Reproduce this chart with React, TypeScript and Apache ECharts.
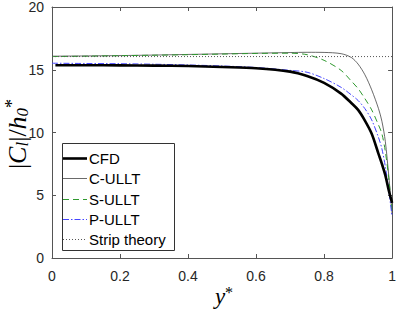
import React, { useEffect, useRef } from "react";
import * as echarts from "echarts";

const xs = [0, 0.1, 0.2, 0.3, 0.4, 0.5, 0.6, 0.7, 0.75, 0.8, 0.85, 0.88, 0.9, 0.92, 0.94, 0.96, 0.97, 0.98, 0.99, 1.0];
const cfdX = [0.01, 0.1, 0.2, 0.3, 0.4, 0.5, 0.6, 0.7, 0.75, 0.8, 0.85, 0.88, 0.9, 0.92, 0.94, 0.96, 0.97, 0.98, 0.99, 1.0];
const cfd = [15.36, 15.36, 15.35, 15.33, 15.3, 15.22, 15.12, 14.85, 14.5, 13.95, 13.1, 12.35, 11.8, 10.95, 9.9, 8.3, 7.5, 6.6, 5.4, 4.4];
const cUllt = [16.08, 16.1, 16.13, 16.17, 16.22, 16.27, 16.32, 16.37, 16.39, 16.38, 16.28, 15.98, 15.45, 14.6, 13.4, 11.9, 10.9, 9.3, 6.6, 3.5];
const sUllt = [16.05, 16.08, 16.12, 16.16, 16.2, 16.25, 16.3, 16.32, 16.2, 15.75, 14.95, 14.1, 13.5, 12.7, 11.8, 10.6, 9.9, 8.5, 6.4, 3.6];
const pUllt = [15.52, 15.5, 15.48, 15.44, 15.38, 15.3, 15.18, 14.95, 14.8, 14.3, 13.6, 13.0, 12.55, 11.9, 11.0, 9.6, 8.7, 7.3, 5.4, 3.3];
const stripX = [0, 1];
const strip = [16.05, 16.05];
const seriesNames = ["CFD", "C-ULLT", "S-ULLT", "P-ULLT", "Strip theory"];
const xTicks = [0, 0.2, 0.4, 0.6, 0.8, 1];
const yTicks = [0, 5, 10, 15, 20];

const zip = (a: number[], b: number[]) => a.map((v, i) => [v, b[i]]);

export default function App() {
  const ref = useRef<HTMLDivElement>(null);
  useEffect(() => {
    if (!ref.current) return;
    const chart = echarts.init(ref.current, null, { renderer: "svg" });
    const axisColor = "#555";
    const labelColor = "#262626";
    const font = "'Liberation Sans', Arial, sans-serif";
    const serif = "'Liberation Serif', 'DejaVu Serif', serif";
    const styles: any[] = [
      { color: "#000000", width: 2.6, dash: null },
      { color: "#444444", width: 0.8, dash: null },
      { color: "#2f992f", width: 1, dash: [6, 4] },
      { color: "#4444ff", width: 1, dash: [6, 2, 1.5, 2] },
      { color: "#555555", width: 1, dash: [1, 2] },
    ];
    const xBase = {
      type: "value" as const,
      min: xTicks[0],
      max: xTicks[xTicks.length - 1],
      interval: 0.2,
      splitLine: { show: false },
      axisLine: { show: true, onZero: false, lineStyle: { color: axisColor, width: 1 } },
      axisTick: { show: true, inside: true, length: 4, lineStyle: { color: axisColor } },
    };
    const yBase = {
      type: "value" as const,
      min: yTicks[0],
      max: yTicks[yTicks.length - 1],
      interval: 5,
      splitLine: { show: false },
      axisLine: { show: true, onZero: false, lineStyle: { color: axisColor, width: 1 } },
      axisTick: { show: true, inside: true, length: 4, lineStyle: { color: axisColor } },
    };
    const dataSets = [zip(cfdX, cfd), zip(xs, cUllt), zip(xs, sUllt), zip(xs, pUllt), zip(stripX, strip)];

    const legendLeft = 62;
    const legendTop = 143;
    const rowY0 = 158;
    const rowGap = 20.3;
    const legendItems: any[] = [
      {
        type: "rect",
        shape: { x: legendLeft + 0.5, y: legendTop + 0.5, width: 112, height: 107 },
        style: { fill: "#fff", stroke: "#333", lineWidth: 1 },
        z: 10,
      },
    ];
    seriesNames.forEach((name, i) => {
      const y = Math.round(rowY0 + i * rowGap) + 0.5;
      const s = styles[i];
      const lineStyle: any = { stroke: s.color, lineWidth: s.width, fill: null };
      if (s.dash) lineStyle.lineDash = s.dash;
      legendItems.push({
        type: "polyline",
        shape: { points: [[63, y], [87, y]] },
        style: lineStyle,
        z: 11,
      });
      legendItems.push({
        type: "text",
        x: 89,
        y: y,
        style: {
          text: name,
          fontFamily: font,
          fontSize: 15,
          fill: "#000",
          verticalAlign: "middle",
          align: "left",
        },
        z: 11,
      });
    });

    chart.setOption({
      animation: false,
      grid: { left: 52, right: 2, top: 5, bottom: 54, containLabel: false },
      xAxis: [
        {
          ...xBase,
          position: "bottom",
          axisLabel: {
            fontSize: 14,
            fontFamily: font,
            color: labelColor,
            margin: 11,
            formatter: (v: number) => String(Math.round(v * 10) / 10),
          },
        },
        { ...xBase, position: "top", axisLabel: { show: false } },
      ],
      yAxis: [
        {
          ...yBase,
          position: "left",
          axisLabel: { fontSize: 14, fontFamily: font, color: labelColor, margin: 8 },
        },
        { ...yBase, position: "right", axisLabel: { show: false } },
      ],
      series: seriesNames.map((name, i) => ({
        name,
        type: "line",
        data: dataSets[i],
        symbol: "none",
        smooth: i === 4 ? false : 0.3,
        lineStyle: { color: styles[i].color, width: styles[i].width, type: styles[i].dash || "solid" },
        itemStyle: { color: styles[i].color },
        z: i === 0 ? 5 : 3,
      })),
      graphic: [
        ...legendItems,
        {
          type: "text",
          x: 17,
          y: 134,
          rotation: Math.PI / 2,
          style: {
            text: "{n||}{i|C}{sub|l}{n||/}{i|h}{sub|0}{sup|*}",
            align: "center",
            verticalAlign: "middle",
            fill: "#000",
            rich: {
              n: { fontFamily: serif, fontSize: 26, fill: "#000" },
              i: { fontFamily: serif, fontStyle: "italic", fontSize: 26, fill: "#000" },
              sub: { fontFamily: serif, fontStyle: "italic", fontSize: 17, fill: "#000", verticalAlign: "bottom", padding: [11, 0, 0, 0] },
              sup: { fontFamily: serif, fontSize: 18, fill: "#000", verticalAlign: "top" },
            },
          },
        },
        {
          type: "text",
          x: 224,
          y: 296,
          style: {
            text: "{i|y}{sup|*}",
            align: "center",
            verticalAlign: "middle",
            fill: "#000",
            rich: {
              i: { fontFamily: serif, fontStyle: "italic", fontSize: 23, fill: "#000" },
              sup: { fontFamily: serif, fontSize: 16, fill: "#000", verticalAlign: "top" },
            },
          },
        },
      ],
    });
    return () => chart.dispose();
  }, []);
  return <div ref={ref} style={{ width: 399, height: 312, position: "absolute", left: 0, top: 0 }} />;
}
